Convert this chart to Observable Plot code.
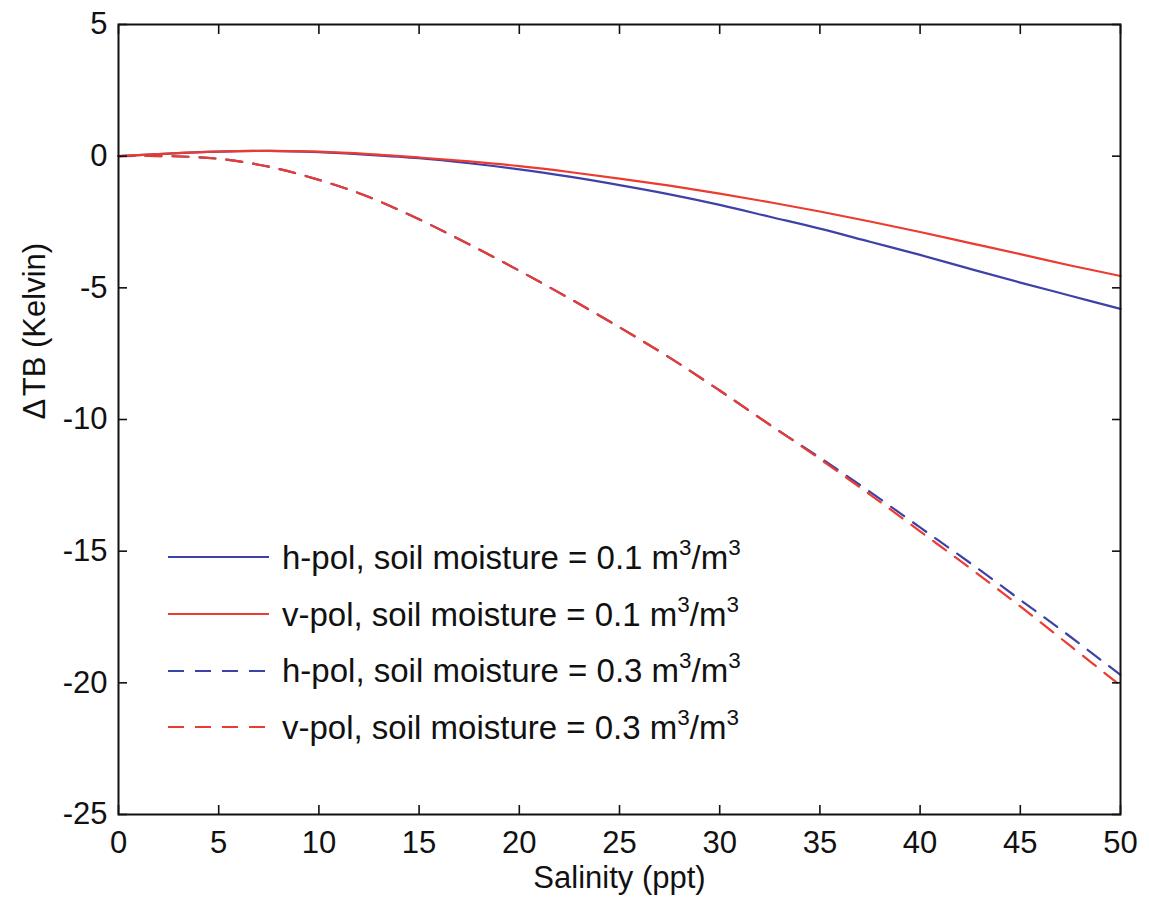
<!DOCTYPE html>
<html>
<head>
<meta charset="utf-8">
<script src="https://cdn.jsdelivr.net/npm/d3@7"></script>
<script src="https://cdn.jsdelivr.net/npm/@observablehq/plot@0.6"></script>
<style>
  html, body { margin: 0; padding: 0; background: #fff; }
  #wrap { position: relative; width: 1149px; height: 899px; font-family: "Liberation Sans", Arial, Helvetica, sans-serif; }
  #legend { position: absolute; left: 168px; top: 529px; }
  .row { display: flex; align-items: center; height: 56.7px; }
  .row svg { width: 101px; height: 10px; margin-right: 13px; }
  .row span { font-size: 33px; color: #111; white-space: nowrap; line-height: 1; }
  .row sup { font-size: 0.68em; vertical-align: 0.62em; line-height: 0; }
</style>
</head>
<body>
<div id="wrap"></div>
<script>
// Salinity (ppt) sample points
const salinity = [0, 2.5, 5, 7.5, 10, 12.5, 15, 17.5, 20, 22.5, 25, 27.5, 30, 32.5, 35, 37.5, 40, 42.5, 45, 47.5, 50];
// ΔTB (K)
const hpol01 = [0, 0.1, 0.17, 0.2, 0.15, 0.05, -0.08, -0.27, -0.5, -0.78, -1.1, -1.45, -1.85, -2.3, -2.75, -3.25, -3.75, -4.28, -4.8, -5.3, -5.8];
const vpol01 = [0, 0.1, 0.17, 0.2, 0.17, 0.08, -0.05, -0.2, -0.38, -0.6, -0.85, -1.12, -1.42, -1.75, -2.1, -2.48, -2.88, -3.3, -3.72, -4.15, -4.55];
const hpol03 = [0, 0.0, -0.1, -0.4, -0.9, -1.55, -2.4, -3.35, -4.35, -5.4, -6.5, -7.65, -8.9, -10.2, -11.45, -12.75, -14.1, -15.45, -16.85, -18.25, -19.7];
const vpol03 = [0, 0.0, -0.1, -0.4, -0.9, -1.55, -2.4, -3.35, -4.35, -5.4, -6.5, -7.65, -8.9, -10.2, -11.5, -12.85, -14.25, -15.65, -17.1, -18.6, -20.1];

const xTicks = [0, 5, 10, 15, 20, 25, 30, 35, 40, 45, 50];
const yTicks = [5, 0, -5, -10, -15, -20, -25];

const BLUE = "#3d42a8";
const RED = "#ec3b30";
const DASH = "16,11";

const series = [
  {name: "h-pol, soil moisture = 0.3", values: hpol03, color: BLUE, dash: DASH},
  {name: "v-pol, soil moisture = 0.3", values: vpol03, color: RED, dash: DASH},
  {name: "h-pol, soil moisture = 0.1", values: hpol01, color: BLUE, dash: null},
  {name: "v-pol, soil moisture = 0.1", values: vpol01, color: RED, dash: null}
];
const legendItems = [
  {label: "h-pol, soil moisture = 0.1", color: BLUE, dash: null},
  {label: "v-pol, soil moisture = 0.1", color: RED, dash: null},
  {label: "h-pol, soil moisture = 0.3", color: BLUE, dash: DASH},
  {label: "v-pol, soil moisture = 0.3", color: RED, dash: DASH}
];

const lineMarks = series.map(s =>
  Plot.line(salinity.map((x, i) => ({x, y: s.values[i]})), {
    x: "x", y: "y", stroke: s.color, strokeWidth: 2.2,
    strokeDasharray: s.dash, curve: "catmull-rom"
  })
);

const FONT = 31;
const chart = Plot.plot({
  width: 1149,
  height: 899,
  marginLeft: 118,
  marginRight: 29,
  marginTop: 24,
  marginBottom: 85,
  style: {fontFamily: '"Liberation Sans", Arial, Helvetica, sans-serif', fontSize: FONT + "px", color: "#111", background: "#fff"},
  x: {domain: [0, 50]},
  y: {domain: [-25, 5]},
  marks: [
    ...lineMarks,
    Plot.frame({stroke: "#111", strokeWidth: 2}),
    Plot.axisX(xTicks, {anchor: "bottom", tickSize: -9, tickPadding: 25, strokeWidth: 1.6, label: null, fontSize: FONT}),
    Plot.axisX(xTicks, {anchor: "top", tickSize: -9, tickFormat: () => "", strokeWidth: 1.6, label: null}),
    Plot.axisY(yTicks, {anchor: "left", tickSize: -9, tickPadding: 20, strokeWidth: 1.6, label: null, fontSize: FONT, tickFormat: d => String(d)}),
    Plot.axisY(yTicks, {anchor: "right", tickSize: -9, tickFormat: () => "", strokeWidth: 1.6, label: null}),
    Plot.text(["Salinity (ppt)"], {frameAnchor: "bottom", dy: 64, lineAnchor: "middle", fontSize: FONT, fill: "#111"}),
    Plot.text(["\u0394\u200aTB (Kelvin)"], {frameAnchor: "left", dx: -83, rotate: -90, lineAnchor: "middle", fontSize: FONT, fill: "#111"})
  ]
});

const wrap = document.getElementById("wrap");
wrap.appendChild(chart);

const legend = document.createElement("div");
legend.id = "legend";
for (const item of legendItems) {
  const row = document.createElement("div");
  row.className = "row";
  row.innerHTML = `<svg viewBox="0 0 101 10"><line x1="0" x2="101" y1="5" y2="5" stroke="${item.color}" stroke-width="2.2" ${item.dash ? `stroke-dasharray="${item.dash}"` : ""}/></svg><span>${item.label} m<sup>3</sup>/m<sup>3</sup></span>`;
  legend.appendChild(row);
}
wrap.appendChild(legend);
</script>
</body>
</html>
